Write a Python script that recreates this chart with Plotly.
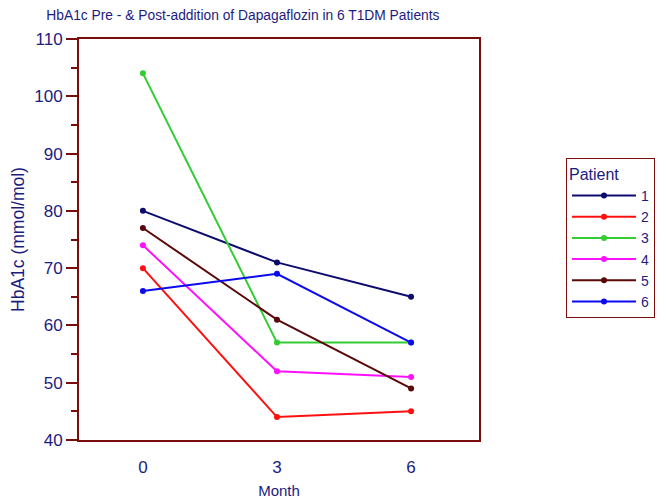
import plotly.graph_objects as go

months = [0, 3, 6]
patients = ["1", "2", "3", "4", "5", "6"]
p1 = [80, 71, 65]
p2 = [70, 44, 45]
p3 = [104, 57, 57]
p4 = [74, 52, 51]
p5 = [77, 61, 49]
p6 = [66, 69, 57]
series = [p1, p2, p3, p4, p5, p6]
colors = ["#0c0c6e", "#ff1010", "#33cc33", "#ff10ff", "#5a0808", "#0a0af0"]

navy = "#1c1c80"
maroon = "#7a0c0c"
font = "Liberation Sans, Arial, sans-serif"

fig = go.Figure()
for name, vals, c in zip(patients, series, colors):
    fig.add_trace(go.Scatter(
        x=months, y=vals, name=name, mode="lines+markers",
        line=dict(color=c, width=2), marker=dict(color=c, size=6),
    ))

# page has an 8px body margin, so the figure is sized to fit the 666x500 window
fig.update_layout(
    width=658, height=492,
    margin=dict(l=71, r=187, t=31, b=60, autoexpand=False),
    paper_bgcolor="white", plot_bgcolor="white",
    font=dict(family=font, color=navy, size=16),
    title=dict(text="HbA1c Pre - & Post-addition of Dapagaflozin in 6 T1DM Patients",
               x=0.357, xanchor="center", y=0.986, yanchor="middle",
               automargin=False,
               font=dict(size=13.8, color=navy, family=font)),
    showlegend=True,
    legend=dict(title=dict(text="Patient", font=dict(size=16, color=navy)),
                x=1.2175, xanchor="left", y=0.703, yanchor="top",
                bordercolor=maroon, borderwidth=1, bgcolor="white",
                itemwidth=64,
                font=dict(size=14, color=navy), tracegroupgap=0),
)
fig.update_xaxes(
    range=[-1.43, 7.52], tickvals=months, ticktext=["0", "3", "6"],
    showgrid=False, zeroline=False, ticks="", ticklabelstandoff=11,
    automargin=False,
    showline=True, mirror=True, linecolor=maroon, linewidth=2,
    tickfont=dict(size=17),
    title=dict(text="Month", standoff=9, font=dict(size=15, color=navy)),
)
fig.update_yaxes(
    range=[40, 110], dtick=10, showgrid=False, zeroline=False,
    ticks="outside", ticklen=11, tickwidth=2, tickcolor=maroon,
    minor=dict(dtick=5, ticks="outside", ticklen=6, tickwidth=2, tickcolor=maroon, showgrid=False),
    automargin=False,
    showline=True, mirror=True, linecolor=maroon, linewidth=2,
    tickfont=dict(size=17),
    title=dict(text="HbA1c (mmol/mol)", standoff=23, font=dict(size=17.5, color=navy)),
)

fig.write_html("out.html")
